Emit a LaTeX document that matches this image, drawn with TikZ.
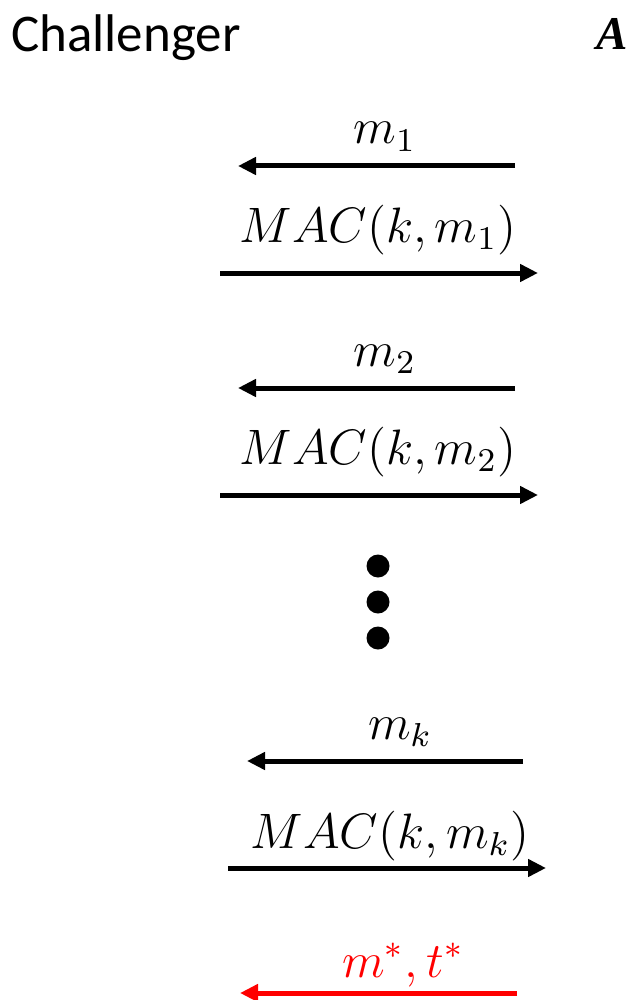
\documentclass[tikz,border=0pt]{standalone}
\usepackage{fontspec}
\newfontfamily\calib{Carlito}
\newfontfamily\serifA{Liberation Serif}
\usetikzlibrary{arrows.meta}
\tikzset{
  msg/.style={line width=5pt, -{Triangle[length=18pt,width=17pt]}},
  lbl/.style={anchor=base, inner sep=0pt, font=\fontsize{12}{14}\selectfont, scale=4.15},
  dot/.style={circle, fill=black, inner sep=0pt, minimum size=23pt}
}
\begin{document}
\begin{tikzpicture}[x=1pt,y=-1pt]
\useasboundingbox[fill=white] (0,0) rectangle (630,1000);
\node[anchor=base west, inner sep=0pt, font=\calib\fontsize{53}{62}\selectfont] (chal) at (11,52) {Challenger};
\node[anchor=base east, inner sep=0pt, font=\serifA\bfseries\itshape\fontsize{47}{56}\selectfont] (adv) at (628,50) {A};
% round 1
\coordinate (a1s) at (515,166); \coordinate (a1e) at (238,166);
\node[lbl] (l1) at (385,144) {$m_1$};
\draw[msg] (a1s) -- (a1e);
\coordinate (b1s) at (220,273); \coordinate (b1e) at (538,273);
\node[lbl] (r1) at (378,242) {$MAC(k,m_1)$};
\draw[msg] (b1s) -- (b1e);
% round 2
\coordinate (a2s) at (515,388); \coordinate (a2e) at (238,388);
\node[lbl] (l2) at (385,366) {$m_2$};
\draw[msg] (a2s) -- (a2e);
\coordinate (b2s) at (220,495); \coordinate (b2e) at (538,495);
\node[lbl] (r2) at (378,464) {$MAC(k,m_2)$};
\draw[msg] (b2s) -- (b2e);
% dots
\node[dot] (d1) at (378,566) {};
\node[dot] (d2) at (378,602) {};
\node[dot] (d3) at (378,638) {};
% round k
\coordinate (aks) at (523,761); \coordinate (ake) at (247,761);
\node[lbl] (lk) at (400,739) {$m_k$};
\draw[msg] (aks) -- (ake);
\coordinate (bks) at (228,868); \coordinate (bke) at (546,868);
\node[lbl] (rk) at (390,848) {$MAC(k,m_k)$};
\draw[msg] (bks) -- (bke);
% forgery
\coordinate (fs) at (517,993); \coordinate (fe) at (240,993);
\node[lbl, text=red] (lf) at (403,977) {$m^*,t^*$};
\draw[msg, red] (fs) -- (fe);
\end{tikzpicture}
\end{document}
